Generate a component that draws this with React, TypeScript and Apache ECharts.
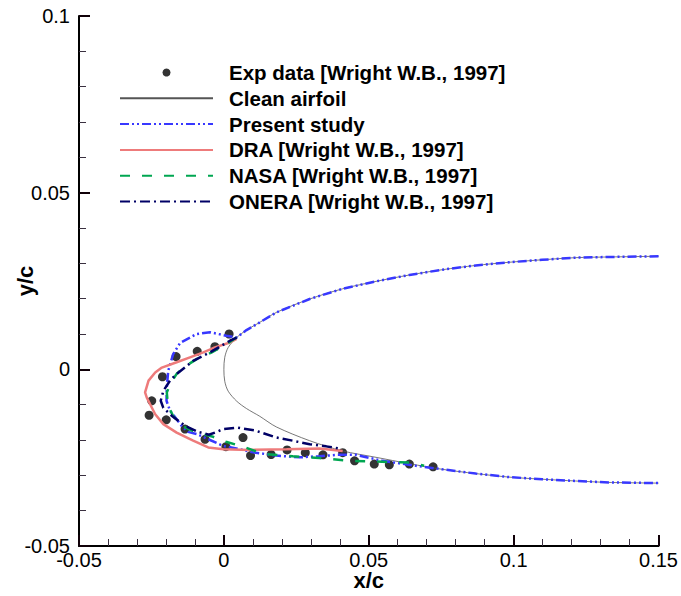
import React, { useEffect, useRef } from "react";
import * as echarts from "echarts";

// Experimental ice shape points [Wright W.B., 1997]
const expX = [0.0018, -0.0031, -0.0092, -0.0165, -0.0212, -0.0249, -0.0258, -0.0199, -0.0134, -0.0065, 0.0007, 0.0066, 0.0092, 0.0163, 0.0218, 0.0281, 0.0342, 0.041, 0.0451, 0.0519, 0.0571, 0.064, 0.0722];
const expY = [0.01, 0.0064, 0.0051, 0.0036, -0.0021, -0.0089, -0.013, -0.0143, -0.0169, -0.0198, -0.0219, -0.0193, -0.0244, -0.0241, -0.0228, -0.0236, -0.0242, -0.0236, -0.0259, -0.0268, -0.027, -0.0268, -0.0276];

// Clean airfoil (upper TE -> LE -> lower TE)
const cleanX = [0.15, 0.1328, 0.1213, 0.1098, 0.0984, 0.0869, 0.0754, 0.064, 0.0525, 0.041, 0.0296, 0.0181, 0.0124, 0.0078, 0.0044, 0.0015, 0.0003, 0, 0.0003, 0.0015, 0.0044, 0.0078, 0.0124, 0.0181, 0.0296, 0.041, 0.0525, 0.064, 0.0754, 0.0869, 0.0984, 0.1098, 0.1213, 0.1328, 0.15];
const cleanY = [0.032, 0.0318, 0.0316, 0.031, 0.0303, 0.0294, 0.0282, 0.0267, 0.0249, 0.0228, 0.0199, 0.0161, 0.0133, 0.0111, 0.009, 0.0062, 0.0034, 0, -0.0034, -0.0062, -0.009, -0.0111, -0.0133, -0.0163, -0.0202, -0.0231, -0.0249, -0.0267, -0.0283, -0.0295, -0.0305, -0.0311, -0.0316, -0.032, -0.0322];

// Present study
const presentX = [0.15, 0.1328, 0.1213, 0.1098, 0.0984, 0.0869, 0.0754, 0.064, 0.0525, 0.041, 0.0296, 0.0181, 0.0124, 0.0078, 0.0044, 0.0009, -0.0048, -0.0094, -0.0151, -0.0175, -0.0192, -0.0197, -0.0198, -0.0186, -0.0163, -0.0146, -0.0124, -0.0094, -0.0048, -0.0002, 0.0055, 0.0101, 0.0181, 0.0261, 0.033, 0.0388, 0.0456, 0.0548, 0.0663, 0.0754, 0.0869, 0.0984, 0.1098, 0.1213, 0.1328, 0.15];
const presentY = [0.032, 0.0318, 0.0316, 0.031, 0.0303, 0.0294, 0.0282, 0.0267, 0.0249, 0.0228, 0.0199, 0.0161, 0.0133, 0.0111, 0.009, 0.0095, 0.0105, 0.01, 0.0075, 0.0043, -0.0004, -0.0051, -0.0089, -0.0117, -0.0141, -0.016, -0.0177, -0.0183, -0.02, -0.0217, -0.0226, -0.0235, -0.0244, -0.0249, -0.0246, -0.0242, -0.0242, -0.0259, -0.0273, -0.0283, -0.0295, -0.0305, -0.0311, -0.0316, -0.032, -0.0322];

// DRA [Wright W.B., 1997]
const draX = [0.0044, 0.0021, -0.0031, -0.0071, -0.0117, -0.0163, -0.0214, -0.0237, -0.026, -0.0272, -0.0266, -0.0255, -0.0237, -0.0209, -0.0163, -0.0106, -0.0054, -0.0002, 0.0089, 0.0216, 0.033, 0.041];
const draY = [0.0086, 0.0076, 0.0062, 0.0048, 0.0034, 0.002, 0.0005, -0.0009, -0.0032, -0.0065, -0.008, -0.0098, -0.0127, -0.0155, -0.0179, -0.0202, -0.0221, -0.0226, -0.0228, -0.0226, -0.0224, -0.0231];

// NASA [Wright W.B., 1997]
const nasaX = [0.0044, 0.0009, -0.0042, -0.0094, -0.014, -0.0163, -0.0186, -0.0197, -0.0193, -0.0175, -0.0145, -0.0094, -0.0037, 0.0007, 0.0066, 0.0135, 0.0238, 0.033, 0.0433, 0.0525, 0.064, 0.0691];
const nasaY = [0.009, 0.0072, 0.0048, 0.0029, 0.0005, -0.0013, -0.0042, -0.0066, -0.0103, -0.0132, -0.016, -0.0179, -0.0191, -0.0205, -0.0219, -0.0239, -0.0246, -0.0251, -0.0259, -0.0261, -0.0264, -0.0273];

// ONERA [Wright W.B., 1997]
const oneraX = [0.0044, 0.0021, -0.0048, -0.0106, -0.0163, -0.0186, -0.0209, -0.0218, -0.0209, -0.0179, -0.0134, -0.0089, -0.0052, -0.0031, -0.0002, 0.0048, 0.0107, 0.0181, 0.0238, 0.0296, 0.0353, 0.0399];
const oneraY = [0.009, 0.0081, 0.0048, 0.0024, -0.0013, -0.0032, -0.0061, -0.0089, -0.0109, -0.0132, -0.016, -0.0177, -0.0185, -0.0179, -0.0169, -0.0165, -0.0173, -0.0193, -0.0202, -0.0212, -0.0218, -0.0224];

const xTicks = { min: -0.05, max: 0.15, interval: 0.05 };
const yTicks = { min: -0.05, max: 0.1, interval: 0.05 };

const legendNames = [
  "Exp data [Wright W.B., 1997]",
  "Clean airfoil",
  "Present study",
  "DRA [Wright W.B., 1997]",
  "NASA [Wright W.B., 1997]",
  "ONERA [Wright W.B., 1997]",
];

const zip = (xs: number[], ys: number[]) => xs.map((x, i) => [x, ys[i]]);
const FONT = '"Liberation Sans", Arial, Helvetica, sans-serif';
const fmt = (v: number) => String(Math.round(v * 10000) / 10000);

function axisCommon() {
  return {
    type: "value",
    splitLine: { show: false },
    axisLine: { show: true, onZero: false, lineStyle: { color: "#000", width: 2 } },
    axisTick: { show: true, inside: true, length: 11, lineStyle: { color: "#100008", width: 2 } },
    minorTick: { show: true, splitNumber: 5, length: 7, lineStyle: { color: "#3a3040", width: 1 } },
    nameMoveOverlap: false,
  };
}

export default function App() {
  const ref = useRef<HTMLDivElement>(null);
  useEffect(() => {
    if (!ref.current) return;
    const chart = echarts.init(ref.current, undefined, { renderer: "svg" });
    chart.setOption({
      animation: false,
      grid: { left: 79, right: 21, top: 16, bottom: 50 },
      legend: {
        data: legendNames.map((name, i) =>
          i === 0 ? { name } : { name, itemStyle: { opacity: 0 } }
        ),
        orient: "vertical",
        left: 119,
        top: 62,
        padding: 0,
        itemWidth: 93,
        itemHeight: 8,
        itemGap: 4.8,
        selectedMode: false,
        textStyle: {
          fontFamily: FONT,
          fontSize: 20.5,
          fontWeight: "bold",
          color: "#000",
          lineHeight: 20,
          padding: [0, 0, 0, 11],
        },
      },
      xAxis: {
        ...axisCommon(),
        ...xTicks,
        name: "x/c",
        nameLocation: "middle",
        nameGap: 23,
        nameTextStyle: { fontFamily: FONT, fontSize: 22, fontWeight: "bold", color: "#000" },
        axisLabel: { fontFamily: FONT, fontSize: 20, color: "#000", margin: 4, formatter: fmt },
      },
      yAxis: {
        ...axisCommon(),
        ...yTicks,
        name: "y/c",
        nameLocation: "middle",
        nameGap: 43,
        nameRotate: 90,
        nameTextStyle: { fontFamily: FONT, fontSize: 22, fontWeight: "bold", color: "#000" },
        axisLabel: { fontFamily: FONT, fontSize: 20, color: "#000", margin: 9, formatter: fmt },
      },
      series: [
        {
          name: legendNames[0],
          type: "scatter",
          data: zip(expX, expY),
          symbol: "circle",
          symbolSize: 9,
          itemStyle: { color: "#000" },
          z: 2,
        },
        {
          name: legendNames[1],
          type: "line",
          data: zip(cleanX, cleanY),
          showSymbol: false,
          symbol: "none",
          smooth: 0.3,
          lineStyle: { color: "#555", width: 0.8, type: "solid" },
          itemStyle: { color: "#555" },
          z: 3,
        },
        {
          name: legendNames[2],
          type: "line",
          data: zip(presentX, presentY),
          showSymbol: false,
          symbol: "none",
          lineStyle: { color: "#3838ff", width: 2.5, type: [9, 3, 2, 3, 2, 3] },
          itemStyle: { color: "#3838ff" },
          z: 4,
        },
        {
          name: legendNames[3],
          type: "line",
          data: zip(draX, draY),
          showSymbol: false,
          symbol: "none",
          lineStyle: { color: "#ee7b7b", width: 2.5, type: "solid" },
          itemStyle: { color: "#ee7b7b" },
          z: 5,
        },
        {
          name: legendNames[4],
          type: "line",
          data: zip(nasaX, nasaY),
          showSymbol: false,
          symbol: "none",
          lineStyle: { color: "#00a651", width: 2.5, type: [10, 12] },
          itemStyle: { color: "#00a651" },
          z: 6,
        },
        {
          name: legendNames[5],
          type: "line",
          data: zip(oneraX, oneraY),
          showSymbol: false,
          symbol: "none",
          lineStyle: { color: "#000066", width: 2.5, type: [10, 4, 2, 4] },
          itemStyle: { color: "#000066" },
          z: 7,
        },
      ],
    });
    return () => chart.dispose();
  }, []);
  return (
    <div
      ref={ref}
      style={{ position: "absolute", left: 0, top: 0, width: 681, height: 596, background: "#fff" }}
    />
  );
}
